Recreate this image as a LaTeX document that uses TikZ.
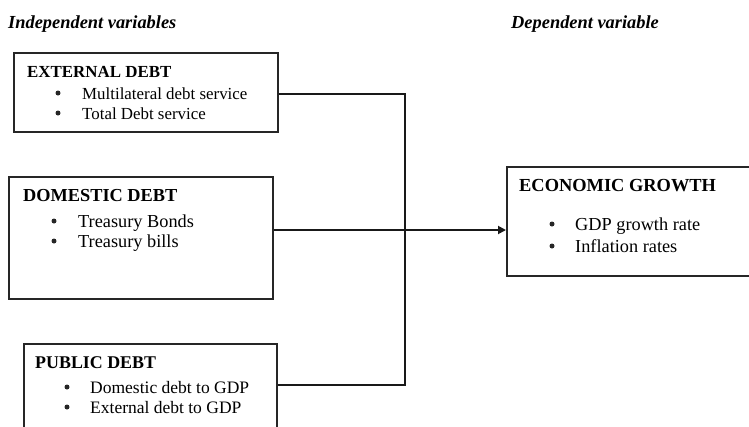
\documentclass[tikz,border=0pt]{standalone}
\usepackage{fontspec}
\setmainfont{Liberation Serif}
\usetikzlibrary{arrows.meta}
\begin{document}
\begin{tikzpicture}[x=1pt,y=-1pt,
  box/.style={draw=black!85,line width=1.7pt},
  txt/.style={anchor=base west,inner sep=0pt,font=\fontsize{#1}{19}\selectfont},
  ttl/.style={anchor=base west,inner sep=0pt,font=\fontsize{#1}{19}\selectfont\bfseries},
  hdr/.style={anchor=base west,inner sep=0pt,font=\fontsize{18.4}{22}\selectfont\bfseries\itshape},
  bul/.style={circle,fill=black!85,inner sep=0pt,minimum size=5pt},
  conn/.style={draw=black!90,line width=1.8pt}]
\useasboundingbox (0,0) rectangle (749,426);
\clip (0,0) rectangle (749,426);
\fill[white] (0,0) rectangle (749,426);
% headers
\node[hdr] (hind) at (8,28) {Independent variables};
\node[hdr] (hdep) at (511,28) {Dependent variable};
% external box
\node[box,anchor=north west,minimum width=264pt,minimum height=79pt,inner sep=0pt] (ext) at (13,52) {};
\node[ttl=16.9] (extT) at (27,77) {EXTERNAL DEBT};
\node[bul] (extB1) at (58,93) {};
\node[txt=16.9] (ext1) at (82,99) {Multilateral debt service};
\node[bul] (extB2) at (58,113) {};
\node[txt=16.9] (ext2) at (82,119) {Total Debt service};
% domestic box
\node[box,anchor=north west,minimum width=264pt,minimum height=122pt,inner sep=0pt] (dom) at (8,176) {};
\node[ttl=18.3] (domT) at (23,201) {DOMESTIC DEBT};
\node[bul] (domB1) at (54,221) {};
\node[txt=18.3] (dom1) at (78,227) {Treasury Bonds};
\node[bul] (domB2) at (54,241) {};
\node[txt=18.3] (dom2) at (78,247) {Treasury bills};
% public box
\node[box,anchor=north west,minimum width=253pt,minimum height=100pt,inner sep=0pt] (pub) at (23,343) {};
\node[ttl=17.9] (pubT) at (35,368) {PUBLIC DEBT};
\node[bul] (pubB1) at (67,387) {};
\node[txt=17.5] (pub1) at (90,393) {Domestic debt to GDP};
\node[bul] (pubB2) at (67,407) {};
\node[txt=17.5] (pub2) at (90,413) {External debt to GDP};
% economic growth box
\node[box,anchor=north west,minimum width=250pt,minimum height=109pt,inner sep=0pt] (eco) at (506,166) {};
\node[ttl=18.4] (ecoT) at (519,191) {ECONOMIC GROWTH};
\node[bul] (ecoB1) at (552,224) {};
\node[txt=18.3] (eco1) at (575,230) {GDP growth rate};
\node[bul] (ecoB2) at (552,246) {};
\node[txt=18.3] (eco2) at (575,252) {Inflation rates};
% connectors
\coordinate (jTop) at (405,94);
\coordinate (jMid) at (405,230);
\coordinate (jBot) at (405,385);
\draw[conn] (ext.east |- jTop) -- (jTop) -- (jBot) -- (pub.east |- jBot);
\draw[conn] (dom.east |- jMid) -- (jMid);
\draw[conn,-{Triangle[length=8pt,width=8pt]}] (jMid) -- (eco.west |- jMid);
\end{tikzpicture}
\end{document}
